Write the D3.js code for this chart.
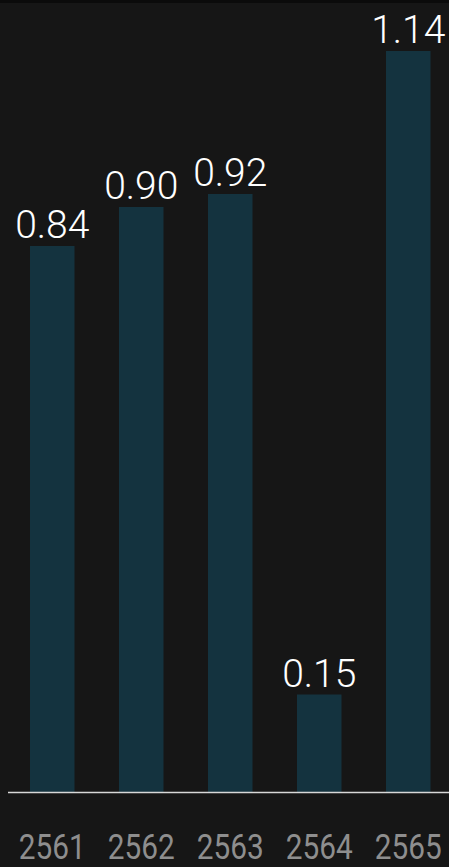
<!DOCTYPE html>
<html>
<head>
<meta charset="utf-8">
<script src="https://cdn.jsdelivr.net/npm/d3@7"></script>
<style>
  html, body { margin: 0; padding: 0; background: #161616; overflow: hidden; }
  svg { display: block; }
</style>
</head>
<body>
<svg id="chart" width="449" height="867"></svg>
<script>
const years = ["2561", "2562", "2563", "2564", "2565"];
const values = [0.84, 0.90, 0.92, 0.15, 1.14];
const valueLabels = ["0.84", "0.90", "0.92", "0.15", "1.14"];

const W = 449, H = 867;
const svg = d3.select("#chart");

// background
svg.append("rect").attr("x", 0).attr("y", 0).attr("width", W).attr("height", H).attr("fill", "#161616");
svg.append("rect").attr("x", 0).attr("y", 0).attr("width", W).attr("height", 3).attr("fill", "#0b0b0b");

const x = d3.scaleBand().domain(years).range([7.75, 452.75]).paddingInner(0.5).paddingOuter(0.25);
const y = d3.scaleLinear().domain([0, 1.14]).range([792, 51]);

const data = years.map((yr, i) => ({ year: yr, value: values[i], label: valueLabels[i] }));

svg.append("g").selectAll("rect.bar").data(data).join("rect")
  .attr("class", "bar")
  .attr("x", d => x(d.year))
  .attr("y", d => y(d.value))
  .attr("width", x.bandwidth())
  .attr("height", d => y(0) - y(d.value))
  .attr("fill", "#14333f");

// baseline
svg.append("line")
  .attr("x1", 8).attr("x2", W)
  .attr("y1", y(0) + 0.5).attr("y2", y(0) + 0.5)
  .attr("stroke", "#d8d8d8").attr("stroke-width", 1.6);

// value labels
svg.append("g").selectAll("text.val").data(data).join("text")
  .attr("class", "val")
  .attr("x", d => x(d.year) + x.bandwidth() / 2)
  .attr("y", d => y(d.value) - 8)
  .attr("text-anchor", "middle")
  .attr("fill", "#ffffff")
  .attr("font-family", "Roboto, 'Noto Sans', sans-serif")
  .attr("font-weight", 300)
  .attr("font-size", 39)
  .text(d => d.label);

// x axis labels
const xAxis = d3.axisBottom(x).tickSize(0).tickPadding(0);
const gx = svg.append("g").attr("transform", "translate(0,859)").call(xAxis);
gx.select(".domain").remove();
gx.selectAll("text")
  .attr("y", 0).attr("dy", 0)
  .attr("fill", "#8e8e8e")
  .attr("font-family", "Roboto, 'Noto Sans', sans-serif")
  .attr("font-weight", 400)
  .attr("font-size", 35)
  .attr("textLength", 67)
  .attr("lengthAdjust", "spacingAndGlyphs");
</script>
</body>
</html>
